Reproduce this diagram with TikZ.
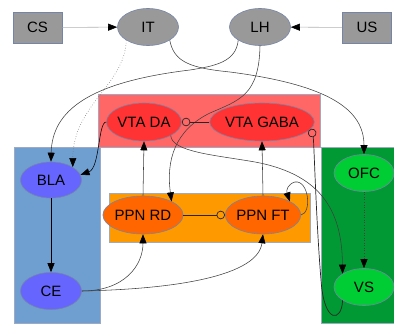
\documentclass[tikz,border=0pt]{standalone}
\usepackage{fontspec}
\setmainfont{Liberation Sans}
\usetikzlibrary{shapes.geometric,arrows.meta}
\definecolor{nodegray}{HTML}{999999}
\definecolor{rimblue}{HTML}{7585A8}
\definecolor{redbg}{HTML}{FF6666}
\definecolor{rednode}{HTML}{FF3333}
\definecolor{bluebg}{HTML}{6F9FD0}
\definecolor{bluenode}{HTML}{6666FF}
\definecolor{orangebg}{HTML}{FF9900}
\definecolor{orangenode}{HTML}{FF6600}
\definecolor{greenbg}{HTML}{009933}
\definecolor{greennode}{HTML}{00CC33}
\begin{document}
\begin{tikzpicture}[x=1pt,y=-1pt,
  lbl/.style={font=\fontsize{15}{17}\selectfont, inner sep=0pt, draw=rimblue, line width=0.6pt, text=black},
  ell/.style={lbl, ellipse, minimum width=61pt, minimum height=37pt},
  sq/.style={lbl, rectangle, fill=nodegray, minimum width=49pt, minimum height=31pt},
  edge/.style={line width=0.55pt, draw=black!75, -{Triangle[length=9pt,width=7pt,color=black]}},
  inh/.style={line width=0.7pt, draw=black!85, -{Circle[open,length=8.5pt,color=black!85]}},
  bgbox/.style={draw=rimblue!70, line width=0.6pt}
]
\useasboundingbox (0,0) rectangle (394,324);
% background boxes
\filldraw[bgbox, fill=redbg] (98,94) rectangle (320,147);
\filldraw[bgbox, fill=bluebg] (14,147) rectangle (100,323);
\filldraw[bgbox, fill=greenbg] (321,147) rectangle (394,323);
\filldraw[bgbox, fill=orangebg] (109,193) rectangle (310,242);
% nodes
\node[sq] (CS) at (37.5,27.5) {CS};
\node[sq] (US) at (367,27.5) {US};
\node[ell, fill=nodegray] (IT) at (148,27) {IT};
\node[ell, fill=nodegray] (LH) at (260,27) {LH};
\node[ell, fill=rednode, minimum width=60pt, minimum height=38pt] (VTADA) at (144,122) {VTA DA};
\node[ell, fill=rednode, minimum width=82pt, minimum height=38pt] (VTAGABA) at (262,122) {VTA GABA};
\node[ell, fill=bluenode, minimum height=36pt] (BLA) at (51,180) {BLA};
\node[ell, fill=bluenode] (CE) at (51,291) {CE};
\node[ell, fill=orangenode, minimum width=62pt, minimum height=38pt] (PPNRD) at (143,215) {PPN RD};
\node[ell, fill=orangenode, minimum height=38pt] (PPNFT) at (263,215) {PPN FT};
\node[ell, fill=greennode, minimum width=60pt] (OFC) at (364,173) {OFC};
\node[ell, fill=greennode, minimum width=60pt] (VS) at (364,287) {VS};
% edges
\draw[edge, draw=black!30] (CS) -- (IT);
\draw[edge, draw=black!30] (US) -- (LH);
\draw[edge, dotted, draw=black!60] (IT.south west) .. controls (125,85) and (73,105) .. (BLA.north east);
\draw[edge] (LH.south west) .. controls (236,62) and (215,66) .. (190,70) .. controls (90,82) and (52,110) .. (BLA.north);
\draw[edge] (IT.south east) .. controls (174,62) and (190,68) .. (230,72) .. controls (330,85) and (364,110) .. (OFC.north);
\draw[edge] (LH.south) .. controls (259,95) and (240,100) .. (210,113) .. controls (175,130) and (166,160) .. (PPNRD.north east);
\draw[edge, draw=black] (VTADA.west) .. controls (98,122) and (100,168) .. (BLA.10);
\draw[inh] (VTAGABA.west) -- (VTADA.east);
\draw[inh] (VS.south west) .. controls (342,322) and (324,325) .. (321,280) .. controls (316,220) and (314,140) .. (VTAGABA.-8);
\draw[edge] (VTADA.south east) .. controls (172,152) and (215,155) .. (255,162) .. controls (325,175) and (342,215) .. (VS.north west);
\draw[edge] (PPNRD.north) -- (VTADA.south);
\draw[edge] (PPNFT.north) -- (VTAGABA.south);
\draw[inh] (PPNRD.east) -- (PPNFT.west);
\draw[edge] (PPNFT.east) .. controls (312,213) and (309,180) .. (295,182) .. controls (288,184) and (286,190) .. (PPNFT.north east);
\draw[edge] (CE.east) .. controls (125,291) and (143,265) .. (PPNRD.south);
\draw[edge] (CE.east) .. controls (180,289) and (258,275) .. (PPNFT.south);
\draw[edge, draw=black] (BLA.south) -- (CE.north);
\draw[edge, dotted] (OFC.south) -- (VS.north);
\end{tikzpicture}
\end{document}
